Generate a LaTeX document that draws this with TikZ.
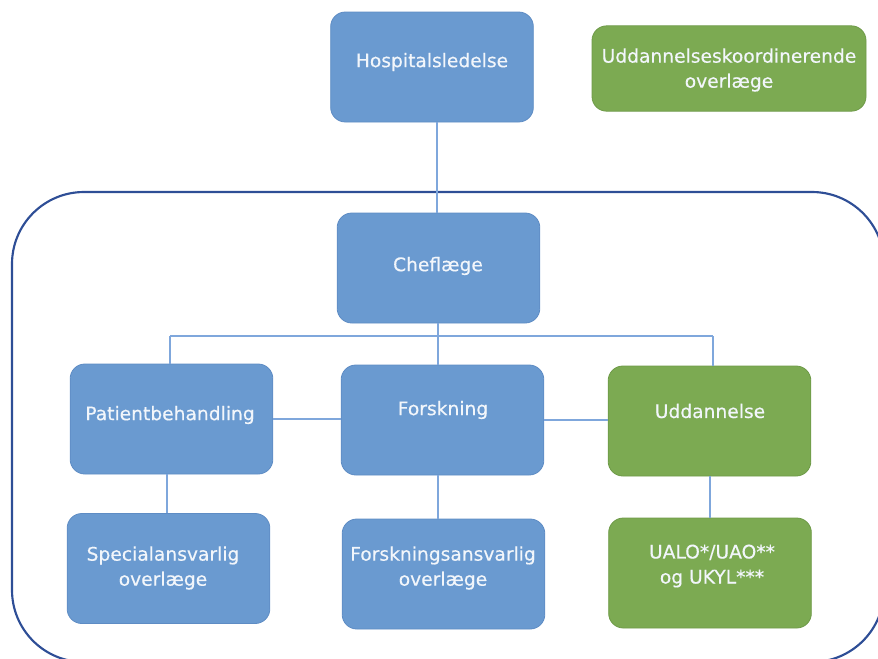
\documentclass[tikz,border=0pt]{standalone}
\usepackage{fontspec}
\setmainfont{DejaVu Sans}
\newfontfamily\labelfont{DejaVu Sans}[FakeBold=0.4]
\definecolor{boxblue}{HTML}{6A9AD0}
\definecolor{boxblueedge}{HTML}{5E8CC4}
\definecolor{boxgreen}{HTML}{7CAA52}
\definecolor{boxgreenedge}{HTML}{6E9A48}
\definecolor{linkblue}{HTML}{7FA7DC}
\definecolor{frameblue}{HTML}{2E4E96}
\definecolor{txt}{HTML}{F2F6FB}
\begin{document}
\begin{tikzpicture}[x=0.75pt,y=-0.75pt,
  base/.style={rounded corners=11pt, line width=0.6pt,
    minimum width=152pt, minimum height=82.5pt, inner sep=0pt},
  bluebox/.style={base, fill=boxblue, draw=boxblueedge},
  greenbox/.style={base, fill=boxgreen, draw=boxgreenedge},
  lbl/.style={align=center, text=txt, inner sep=0pt,
    font=\labelfont\fontsize{14}{18.8}\selectfont},
  link/.style={draw=linkblue, line width=1.3pt},
  frame/.style={draw=frameblue, line width=1.6pt, rounded corners=54pt}]
\useasboundingbox (0,0) rectangle (878,658);
\draw[frame] (12,192) rectangle (884,662);

\node[bluebox] (hosp) at (432,67) {};
\node[lbl] (hospT) at (432,62) {Hospitalsledelse};
\node[greenbox, minimum width=205.5pt, minimum height=64pt] (uddk) at (729,68.5) {};
\node[lbl] (uddkT) at (729,70) {Uddannelseskoordinerende\\overlæge};
\node[bluebox] (chef) at (438.5,268) {};
\node[lbl] (chefT) at (438,266) {Cheflæge};
\node[bluebox] (pat) at (171.5,419) {};
\node[lbl] (patT) at (170,415) {Patientbehandling};
\node[bluebox] (fors) at (442.5,420) {};
\node[lbl] (forsT) at (443,410) {Forskning};
\node[greenbox] (udd) at (709.5,421) {};
\node[lbl] (uddT) at (710,411) {Uddannelse};
\node[bluebox] (spec) at (168.5,568.5) {};
\node[lbl] (specT) at (163,568) {Specialansvarlig\\overlæge};
\node[bluebox] (fa) at (443.5,574) {};
\node[lbl] (faT) at (443,568) {Forskningsansvarlig\\overlæge};
\node[greenbox] (ualo) at (710,573) {};
\node[lbl] (ualoT) at (712,566) {UALO*/UAO**\\og UKYL***};

\coordinate (busL) at (170,336);
\coordinate (busR) at (713,336);
\coordinate (busM) at (438,336);
\coordinate (top) at (437,122);

\draw[link] (top) -- (top |- chef.north);
\draw[link] (busL) -- (busR);
\draw[link] (busM |- chef.south) -- (busM |- fors.north);
\draw[link] (busL) -- (busL |- pat.north);
\draw[link] (busR) -- (busR |- udd.north);
\draw[link] (pat.east) -- (pat.east -| fors.west);
\draw[link] (fors.east) -- (fors.east -| udd.west);
\coordinate (v1) at (167,0);
\coordinate (v2) at (438,0);
\coordinate (v3) at (710,0);
\draw[link] (v1 |- pat.south) -- (v1 |- spec.north);
\draw[link] (v2 |- fors.south) -- (v2 |- fa.north);
\draw[link] (v3 |- udd.south) -- (v3 |- ualo.north);
\end{tikzpicture}
\end{document}
